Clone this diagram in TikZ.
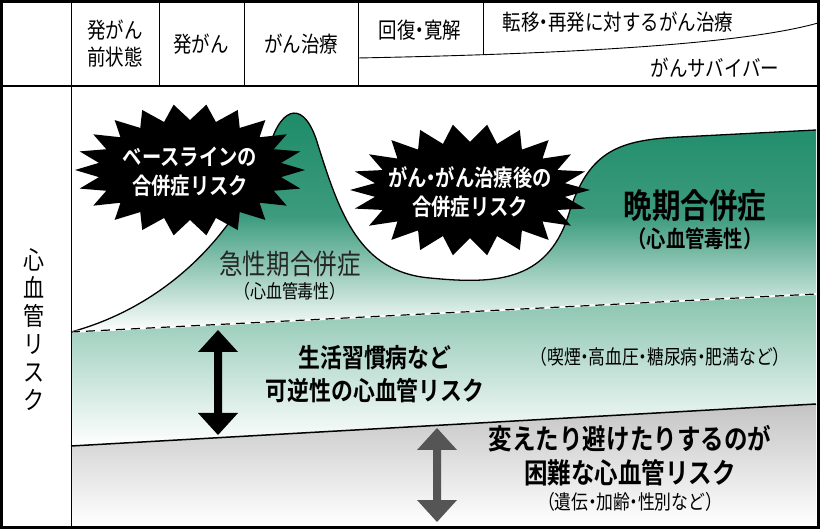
\documentclass[tikz,border=0pt]{standalone}
\usepackage{fontspec}
\newfontfamily\jp{Noto Sans CJK JP}[BoldFont={Noto Sans CJK JP Bold}, FakeStretch=0.84]
\newcommand{\md}{\hspace{-0.22em}・\hspace{-0.22em}}
\definecolor{dgreen}{HTML}{1A8A66}
\definecolor{teal}{HTML}{86C3AD}
\definecolor{lgray}{HTML}{C4C4C4}
\definecolor{agray}{HTML}{555555}
\begin{document}
\begin{tikzpicture}[x=1pt,y=-1pt,
  hd/.style={font=\jp\fontsize{22}{25}\selectfont, align=center, inner sep=0},
  st/.style={font=\jp\bfseries\fontsize{23}{29}\selectfont, text=white, align=center, inner sep=0},
  sm/.style={font=\jp\fontsize{19}{21}\selectfont, inner sep=0},
  bd/.style={align=center, inner sep=0}]
\useasboundingbox (0,0) rectangle (820,529);
\shade[top color=lgray, bottom color=white] (71,446) -- (816,404) -- (816,525) -- (71,525) -- cycle;
\shade[top color=teal, bottom color=white] (71,332) -- (816,294) -- (816,404) -- (71,446) -- cycle;
\shade[top color=dgreen, bottom color=white, middle color=dgreen!85]
  (71,332) .. controls (170,305) and (240,230) .. (270,145)
  .. controls (282,105) and (305,100) .. (318,145)
  .. controls (340,215) and (360,272) .. (430,278)
  .. controls (500,285) and (550,280) .. (570,210)
  .. controls (590,150) and (620,140) .. (680,137)
  -- (816,130) -- (816,294) -- cycle;
\draw[line width=1.3pt]
  (71,332) .. controls (170,305) and (240,230) .. (270,145)
  .. controls (282,105) and (305,100) .. (318,145)
  .. controls (340,215) and (360,272) .. (430,278)
  .. controls (500,285) and (550,280) .. (570,210)
  .. controls (590,150) and (620,140) .. (680,137)
  -- (816,130);
\draw[white, line width=2pt] (71,332) -- (816,294);
\draw[line width=1.2pt, dash pattern=on 9pt off 6pt] (71,332) -- (816,294);
\draw[line width=1.5pt] (71,446) -- (816,404);
\fill (305,170) \foreach \i in {1,...,43} { -- ({190+(mod(\i,2)==0 ? 115 : 92)*cos(\i*360/44)},{170+(mod(\i,2)==0 ? 66 : 50)*sin(\i*360/44)}) } -- cycle;
\fill (590,190) \foreach \i in {1,...,43} { -- ({470+(mod(\i,2)==0 ? 120 : 96)*cos(\i*360/44)},{190+(mod(\i,2)==0 ? 66 : 48)*sin(\i*360/44)}) } -- cycle;
\node[st] (s1) at (190,172) {ベースラインの\\合併症リスク};
\node[st] (s2) at (470,192) {がん\md がん治療後の\\合併症リスク};
\node[font=\jp\bfseries\fontsize{34}{36}\selectfont, inner sep=0] (late) at (695,206) {晩期合併症};
\node[font=\jp\bfseries\fontsize{23}{24}\selectfont, inner sep=0] (late2) at (695,239) {（心血管毒性）};
\node[font=\jp\fontsize{28}{30}\selectfont, inner sep=0, text=black!85] (acute) at (290,264) {急性期合併症};
\node[sm] (acute2) at (290,291) {（心血管毒性）};
\node[bd, font=\jp\bfseries\fontsize{26}{33}\selectfont] (rev) at (375,374) {生活習慣病など\\可逆性の心血管リスク};
\node[sm, font=\jp\fontsize{20}{22}\selectfont] (rev2) at (660,357) {（喫煙\md 高血圧\md 糖尿病\md 肥満など）};
\node[bd, font=\jp\bfseries\fontsize{28}{34}\selectfont] (irr) at (630,456) {変えたり避けたりするのが\\困難な心血管リスク};
\node[sm, font=\jp\fontsize{20}{22}\selectfont] (irr2) at (630,502) {（遺伝\md 加齢\md 性別など）};
\fill (218,330) -- (238,352) -- (222,352) -- (222,413) -- (238,413) -- (218,435) -- (198,413) -- (214,413) -- (214,352) -- (198,352) -- cycle;
\fill[agray] (437,428) -- (457,450) -- (441,450) -- (441,500) -- (457,500) -- (437,522) -- (417,500) -- (433,500) -- (433,450) -- (417,450) -- cycle;
\node[font=\jp\fontsize{25}{28}\selectfont, align=center, inner sep=0] (yl) at (34,330) {心\\血\\管\\リ\\ス\\ク};
\draw[line width=1pt] (71,2) -- (71,527) (159,2) -- (159,86) (244,2) -- (244,86) (358,2) -- (358,86) (483,2) -- (483,54);
\draw[line width=1.5pt] (2,86) -- (818,86);
\draw[line width=0.9pt] (358,58) .. controls (560,54) and (740,45) .. (818,23);
\node[hd, align=center, font=\jp\fontsize{22}{27}\selectfont] (h1) at (115,44) {発がん\\前状態};
\node[hd] (h2) at (201,44) {発がん};
\node[hd] (h3) at (301,44) {がん治療};
\node[hd] (h4) at (420,30) {回復\md 寛解};
\node[hd] (h5) at (618,22) {転移\md 再発に対するがん治療};
\node[hd] (h6) at (715,68) {がんサバイバー};
\draw[line width=3pt] (1.5,1.5) rectangle (818.5,527.5);
\end{tikzpicture}
\end{document}
